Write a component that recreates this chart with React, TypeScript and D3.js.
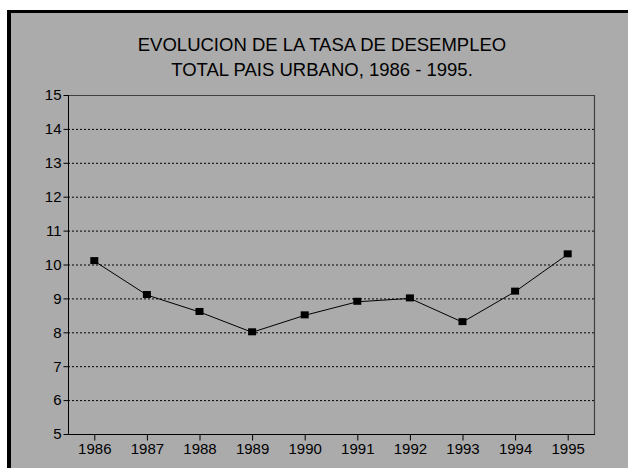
import React, { useEffect, useRef } from 'react';
import * as d3 from 'd3';

const years = ['1986', '1987', '1988', '1989', '1990', '1991', '1992', '1993', '1994', '1995'];
const tasa = [10.1, 9.1, 8.6, 8.0, 8.5, 8.9, 9.0, 8.3, 9.2, 10.3];
const yTicks = [5, 6, 7, 8, 9, 10, 11, 12, 13, 14, 15];
const titleLines = ['EVOLUCION DE LA TASA DE DESEMPLEO', 'TOTAL PAIS URBANO, 1986 - 1995.'];

const W = 628;
const H = 468;
const FONT = '"Liberation Sans", Arial, sans-serif';

export default function App() {
	const ref = useRef<SVGSVGElement>(null);

	useEffect(() => {
		const svg = d3.select(ref.current);
		svg.selectAll('*').remove();

		// background + frame
		svg.append('rect').attr('width', W).attr('height', H).attr('fill', '#fff');
		svg.append('rect')
			.attr('x', 11).attr('y', 13)
			.attr('width', W - 11).attr('height', H - 13)
			.attr('fill', '#ababab');
		svg.append('rect').attr('x', 7).attr('y', 10).attr('width', 4).attr('height', H - 10).attr('fill', '#000');
		svg.append('rect').attr('x', 7).attr('y', 10).attr('width', W - 7).attr('height', 3).attr('fill', '#000');

		// title
		svg.append('g')
			.selectAll('text')
			.data(titleLines)
			.join('text')
			.attr('x', 322)
			.attr('y', (d, i) => 51 + i * 25)
			.attr('text-anchor', 'middle')
			.attr('font-family', FONT)
			.attr('font-size', 18.5)
			.attr('fill', '#000')
			.text(d => d);

		const margin = { left: 68, top: 95, right: 34, bottom: 34 };
		const x = d3.scalePoint<string>().domain(years).range([margin.left, W - margin.right]).padding(0.5);
		const y = d3.scaleLinear().domain([5, 15]).range([H - margin.bottom, margin.top]);

		// grid (dotted)
		svg.append('g')
			.selectAll('line')
			.data(yTicks.filter(t => t > 5 && t < 15))
			.join('line')
			.attr('x1', margin.left).attr('x2', W - margin.right)
			.attr('y1', d => y(d) + 0.5).attr('y2', d => y(d) + 0.5)
			.attr('stroke', '#000')
			.attr('stroke-width', 1)
			.attr('stroke-dasharray', '2,2');

		// top + right frame of plot
		svg.append('path')
			.attr('d', `M${margin.left},${y(15) + 0.5}H${W - margin.right + 0.5}V${y(5)}`)
			.attr('fill', 'none')
			.attr('stroke', '#404040')
			.attr('stroke-width', 1.2);

		// axes
		const xAxis = d3.axisBottom(x).tickSize(6).tickPadding(3);
		const yAxis = d3.axisLeft(y).tickValues(yTicks).tickSize(5).tickPadding(2).tickFormat(d3.format('d'));

		const gx = svg.append('g')
			.attr('transform', `translate(0,${y(5) + 0.5})`)
			.call(xAxis);
		gx.select('.domain').attr('d', `M${margin.left},0H${W - margin.right + 1}`);

		const gy = svg.append('g')
			.attr('transform', `translate(${margin.left + 0.5},0)`)
			.call(yAxis);
		gy.select('.domain').attr('d', `M0,${y(15)}V${y(5)}`);

		[gx, gy].forEach(g => {
			g.selectAll('.domain').attr('stroke', '#000');
			g.selectAll('.tick line').attr('stroke', '#000');
			g.selectAll('.tick text')
				.attr('fill', '#000')
				.attr('font-family', FONT)
				.attr('font-size', 15);
		});

		// line
		const line = d3.line<number>()
			.x((d, i) => x(years[i]) as number)
			.y(d => y(d));
		svg.append('path')
			.attr('d', line(tasa))
			.attr('fill', 'none')
			.attr('stroke', '#000')
			.attr('stroke-width', 1);

		// markers
		svg.append('g')
			.selectAll('rect')
			.data(tasa)
			.join('rect')
			.attr('x', (d, i) => (x(years[i]) as number) - 4)
			.attr('y', d => y(d) - 4)
			.attr('width', 8)
			.attr('height', 7)
			.attr('fill', '#000');
	}, []);

	return (
		<svg
			ref={ref}
			width={W}
			height={H}
			style={{ position: 'absolute', left: 0, top: 0, display: 'block' }}
		/>
	);
}
